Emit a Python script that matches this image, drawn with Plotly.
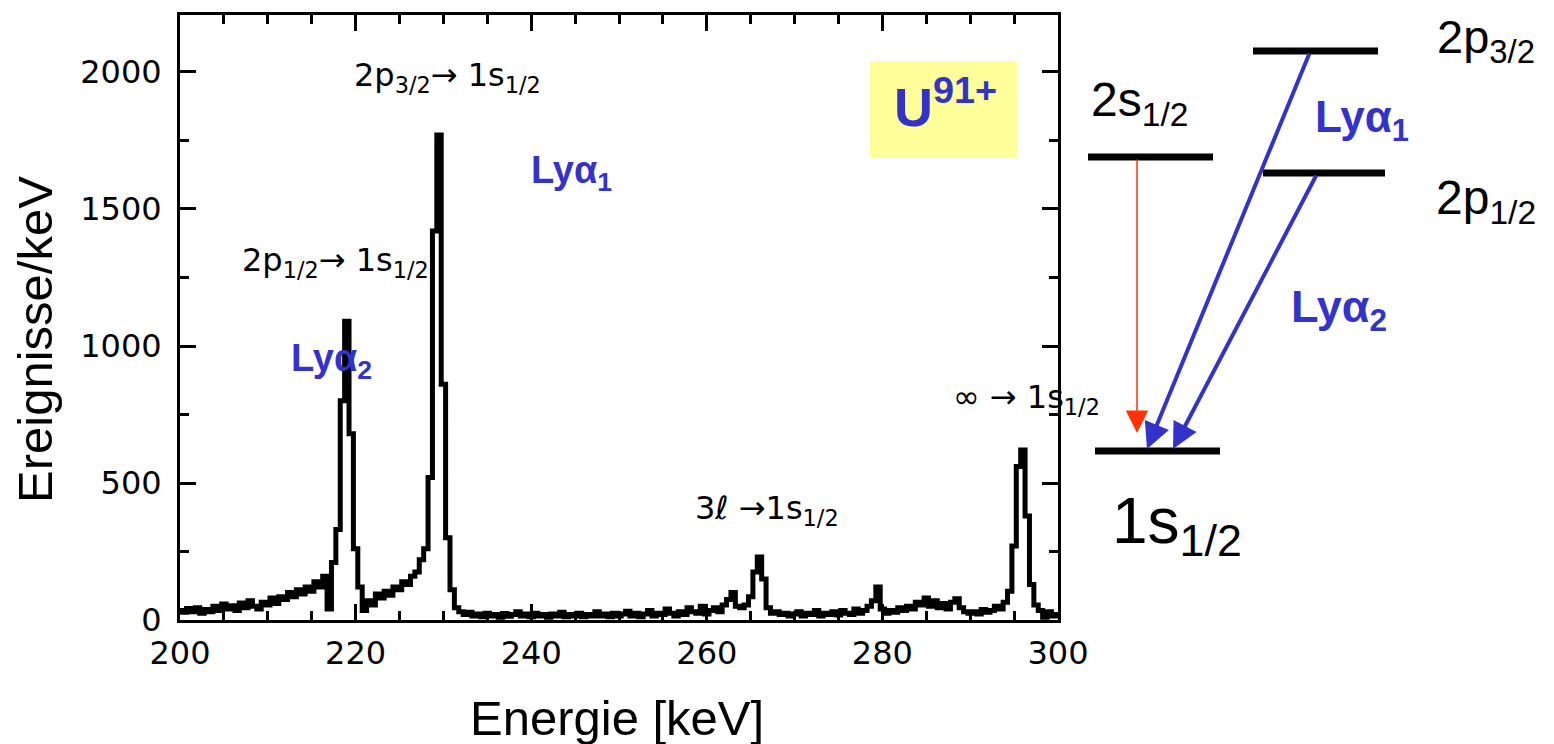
import plotly.graph_objects as go

# ---------------- data ----------------
energy_start = 200.0
energy_step = 0.5
counts = [
    35, 28, 42, 30, 45, 25, 38, 30, 50, 35,
    58, 40, 52, 35, 62, 45, 70, 50, 40, 65,
    55, 80, 60, 85, 75, 100, 85, 110, 95, 120,
    105, 140, 120, 160, 40, 210, 330, 800, 1090, 680,
    260, 120, 35, 70, 55, 95, 80, 105, 90, 120,
    110, 140, 130, 160, 175, 220, 260, 520, 1420, 1770,
    860, 300, 110, 45, 30, 20, 28, 15, 22, 12,
    25, 15, 20, 10, 24, 14, 20, 30, 15, 22,
    12, 25, 15, 20, 10, 22, 15, 28, 12, 20,
    15, 25, 12, 20, 15, 30, 15, 22, 12, 25,
    15, 22, 32, 15, 25, 12, 22, 35, 15, 25,
    20, 40, 25, 15, 30, 20, 45, 30, 25, 50,
    22, 35, 45, 30, 55, 75, 100, 50, 45, 55,
    85, 175, 230, 150, 45, 25, 30, 20, 25, 15,
    22, 30, 15, 25, 20, 35, 15, 25, 20, 30,
    18, 35, 25, 20, 40, 25, 35, 50, 70, 120,
    40, 25, 35, 28, 45, 35, 50, 40, 65, 55,
    80, 50, 70, 45, 60, 40, 65, 78, 45, 30,
    25, 30, 22, 38, 28, 35, 50, 40, 65, 105,
    270, 560, 620, 380, 130, 55, 35, 10, 30, 15, 20,
]
energies = [energy_start + energy_step * i for i in range(len(counts))]

x_range = [200, 300]
y_range = [0, 2208]
x_ticks = [200, 220, 240, 260, 280, 300]
y_ticks = [0, 500, 1000, 1500, 2000]

# schematic level diagram (pixel layout of the drawing): name -> (x0, x1, y)
levels = {
    "2p3/2": (1253, 1378, 51),
    "2s1/2": (1088, 1213, 157),
    "2p1/2": (1263, 1385, 173),
    "1s1/2": (1095, 1220, 451),
}

# page has an 8px body margin: figure covers page pixels OFF..OFF+W
OFF = 8
W, H = 1554 - OFF, 744 - OFF
BLUE = "#3333CC"
RED = "#FF3300"
ARIAL = "Liberation Sans, Arial, sans-serif"
DJ = "DejaVu Sans"
TICKFONT = dict(family=DJ, size=32, color="black")


def dom_x(p0, p1):
    return [(p0 - OFF) / W, (p1 - OFF) / W]


def dom_y(top, bottom):
    return [1 - (bottom - OFF) / H, 1 - (top - OFF) / H]


fig = go.Figure()
fig.add_trace(go.Scatter(
    x=energies, y=counts, mode="lines",
    line=dict(color="black", width=5, shape="hvh"),
    hoverinfo="skip", showlegend=False, xaxis="x", yaxis="y",
))

# level lines on a full-figure overlay axis (page pixel units)
for x0, x1, yy in levels.values():
    fig.add_trace(go.Scatter(
        x=[x0, x1], y=[yy, yy], mode="lines", xaxis="x2", yaxis="y2",
        line=dict(color="black", width=7), hoverinfo="skip", showlegend=False,
        cliponaxis=False,
    ))

axis_common = dict(
    showline=True, linecolor="black", linewidth=3, mirror="allticks",
    ticks="inside", ticklen=16, tickwidth=2.5, tickcolor="black",
    showgrid=False, zeroline=False, tickfont=TICKFONT, automargin=False,
)
fig.update_layout(
    xaxis=dict(
        range=x_range, tickvals=x_ticks, domain=dom_x(180, 1058), anchor="y",
        minor=dict(ticks="inside", ticklen=9, tickwidth=2.5, tickcolor="black", dtick=5, showgrid=False),
        ticklabelstandoff=3, **axis_common,
    ),
    yaxis=dict(
        range=y_range, tickvals=y_ticks, domain=dom_y(15, 620), anchor="x",
        minor=dict(ticks="inside", ticklen=9, tickwidth=2.5, tickcolor="black", dtick=250, showgrid=False),
        ticklabelstandoff=9, **axis_common,
    ),
    xaxis2=dict(domain=[0, 1], range=[OFF, OFF + W], visible=False, anchor="y2",
                showgrid=False, zeroline=False, automargin=False, fixedrange=True),
    yaxis2=dict(domain=[0, 1], range=[OFF + H, OFF], visible=False, anchor="x2",
                showgrid=False, zeroline=False, automargin=False, fixedrange=True),
)

shapes = [dict(type="rect", xref="x2", yref="y2", x0=870, x1=1017, y0=61, y1=158,
               fillcolor="#FFFF99", line=dict(width=0), layer="below")]

ann = []


def text(px, py, s, size, color="black", family=ARIAL, bold=False, angle=0, yanchor="middle"):
    if bold:
        s = "<b>" + s + "</b>"
    ann.append(dict(x=px, y=py, xref="x2", yref="y2", text=s, textangle=angle,
                    showarrow=False, xanchor="center", yanchor=yanchor, borderpad=0,
                    font=dict(family=family, size=size, color=color)))


def arrow(tail, head, color, width, size):
    ann.append(dict(x=head[0], y=head[1], xref="x2", yref="y2",
                    ax=tail[0], ay=tail[1], axref="x2", ayref="y2",
                    text="", showarrow=True, arrowhead=2, arrowsize=size,
                    arrowwidth=width, arrowcolor=color))


# axis titles
text(35, 340, "Ereignisse/keV", 49, angle=-90)
text(617, 718, "Energie [keV]", 49)

# spectrum labels
text(447, 77, "2p<sub>3/2</sub>\u2192 1s<sub>1/2</sub>", 32, family=DJ)
text(335, 262, "2p<sub>1/2</sub>\u2192 1s<sub>1/2</sub>", 32, family=DJ)
text(767, 510, "3\u2113 \u21921s<sub>1/2</sub>", 32, family=DJ)
text(1026, 399, "\u221e \u2192 1s<sub>1/2</sub>", 32, family=DJ)
text(571, 173, "Ly\u03b1<sub>1</sub>", 38, color=BLUE, bold=True)
text(331, 361, "Ly\u03b1<sub>2</sub>", 38, color=BLUE, bold=True)
text(945, 103, "U<sup>91+</sup>", 54, color=BLUE, bold=True)

# diagram labels
text(1486, OFF + 1, "2p<sub>3/2</sub>", 47, yanchor="top")
text(1139, 103, "2s<sub>1/2</sub>", 48)
text(1486, 201, "2p<sub>1/2</sub>", 48)
text(1177, 525, "1s<sub>1/2</sub>", 64)
text(1362, 120, "Ly\u03b1<sub>1</sub>", 44, color=BLUE, bold=True)
text(1339, 309, "Ly\u03b1<sub>2</sub>", 45, color=BLUE, bold=True)

# transitions
arrow((1137, 158), (1137, 433), RED, 1.5, 3)
arrow((1310, 52), (1147, 449), BLUE, 4, 1.3)
arrow((1317, 174), (1173, 449), BLUE, 4, 1.3)

fig.update_layout(
    template="none",
    width=W, height=H, margin=dict(l=0, r=0, t=0, b=0, pad=0, autoexpand=False),
    paper_bgcolor="white", plot_bgcolor="rgba(0,0,0,0)",
    shapes=shapes, annotations=ann, showlegend=False,
)
fig.write_html("out.html")
